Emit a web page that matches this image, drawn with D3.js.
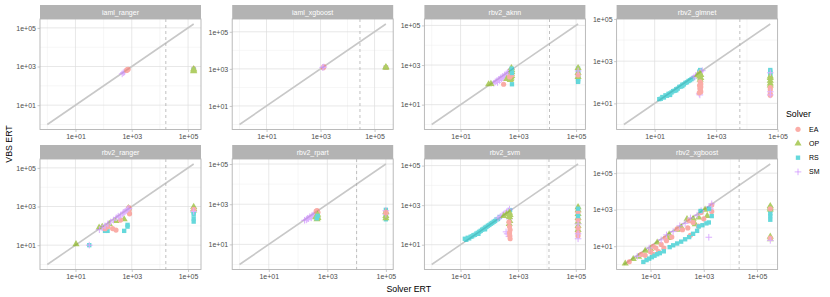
<!DOCTYPE html>
<html>
<head>
<meta charset="utf-8">
<script src="https://cdn.jsdelivr.net/npm/d3@7"></script>
<style>
  body { margin: 0; background: #fff; }
  svg { font-family: "Liberation Sans", Arial, sans-serif; }
</style>
</head>
<body>
<div id="chart"></div>
<script>
// Facet names, in reading order (4 columns x 2 rows)
var facets = ['iaml_ranger', 'iaml_xgboost', 'rbv2_aknn', 'rbv2_glmnet',
              'rbv2_ranger', 'rbv2_rpart', 'rbv2_svm', 'rbv2_xgboost'];

var solvers = ['EA', 'OP', 'RS', 'SM'];
var solverColors = ['#F8766D', '#7CAE00', '#00BFC4', '#C77CFF'];

// log10 of the largest ERT in each facet (end of the diagonal)
var maxLog = [5.2, 5.42, 5.07, 4.76, 5.2, 5.0, 5.08, 5.5];
// log10 of the dashed cut-off line in each facet
var cutLog = [4.21, 4.46, 4.08, 3.77, 4.21, 4.0, 4.07, 4.33];

var majorTicks = [10, 1000, 100000];
var minorTicks = [1, 100, 10000];

// Points: [solver, log10 Solver ERT, log10 VBS ERT]
var iamlRanger = [
  ['SM', 2.70, 2.68], ['SM', 2.74, 2.72], ['SM', 2.66, 2.62],
  ['EA', 2.84, 2.84], ['EA', 2.87, 2.86], ['EA', 2.82, 2.80],
  ['EA', 5.2, 2.88], ['RS', 5.2, 2.84], ['OP', 5.2, 2.86], ['OP', 5.2, 2.80], ['OP', 5.2, 2.76]
];

var iamlXgboost = [
  ['EA', 3.12, 3.12], ['EA', 3.10, 3.06], ['SM', 3.08, 3.08], ['SM', 3.12, 3.10],
  ['RS', 5.42, 3.08], ['EA', 5.42, 3.08], ['OP', 5.42, 3.10], ['OP', 5.42, 3.06]
];

var rbv2Aknn = [
  ['SM', 2.15, 2.08], ['SM', 2.20, 2.15], ['SM', 2.25, 2.20], ['SM', 2.28, 2.12], ['SM', 2.32, 2.28],
  ['SM', 2.35, 2.22], ['SM', 2.38, 2.35], ['SM', 2.42, 2.30], ['SM', 2.45, 2.42], ['SM', 2.48, 2.36],
  ['SM', 2.52, 2.50], ['SM', 2.55, 2.42], ['SM', 2.58, 2.55], ['SM', 2.60, 2.48], ['SM', 2.63, 2.62],
  ['SM', 2.66, 2.55], ['SM', 2.68, 2.68], ['SM', 2.70, 2.62], ['SM', 2.72, 2.75], ['SM', 2.74, 2.70],
  ['SM', 2.76, 2.80],
  ['OP', 1.97, 2.03], ['OP', 2.05, 2.05], ['OP', 2.76, 2.85], ['OP', 2.77, 2.75], ['OP', 2.77, 2.65],
  ['OP', 2.76, 2.55], ['OP', 2.77, 2.45], ['OP', 2.75, 2.38], ['OP', 2.74, 2.30], ['OP', 2.72, 2.25],
  ['OP', 2.60, 2.30],
  ['EA', 2.49, 2.03], ['EA', 2.77, 2.50], ['EA', 2.70, 2.40],
  ['RS', 2.78, 2.03], ['RS', 2.77, 2.82], ['RS', 2.78, 2.60],
  ['RS', 5.07, 2.82], ['RS', 5.07, 2.72], ['RS', 5.07, 2.62], ['RS', 5.07, 2.52], ['RS', 5.07, 2.45],
  ['RS', 5.07, 2.38], ['RS', 5.07, 2.30], ['RS', 5.07, 2.22], ['RS', 5.07, 2.15],
  ['OP', 5.07, 2.85], ['OP', 5.07, 2.60], ['OP', 5.07, 2.40], ['EA', 5.07, 2.50], ['SM', 5.07, 2.70]
];

var rbv2Glmnet = [
  ['RS', 1.15, 1.20], ['RS', 1.20, 1.22], ['RS', 1.25, 1.30], ['RS', 1.30, 1.28], ['RS', 1.35, 1.38],
  ['RS', 1.40, 1.36], ['RS', 1.45, 1.45], ['RS', 1.50, 1.47], ['RS', 1.55, 1.52], ['RS', 1.60, 1.58],
  ['RS', 1.65, 1.60], ['RS', 1.70, 1.67], ['RS', 1.75, 1.70], ['RS', 1.80, 1.78], ['RS', 1.85, 1.80],
  ['RS', 1.90, 1.88], ['RS', 1.95, 1.90], ['RS', 2.00, 1.97], ['RS', 2.05, 2.00], ['RS', 2.10, 2.06],
  ['RS', 2.15, 2.10], ['RS', 2.20, 2.15], ['RS', 2.25, 2.20], ['RS', 1.50, 1.40], ['RS', 1.70, 1.62],
  ['RS', 1.90, 1.82], ['RS', 2.48, 2.58], ['RS', 2.45, 2.50],
  ['SM', 2.28, 2.25], ['SM', 2.33, 2.32], ['SM', 2.38, 2.30], ['SM', 2.42, 2.40], ['SM', 2.47, 2.45],
  ['SM', 2.50, 2.50], ['SM', 2.55, 2.55], ['SM', 2.45, 1.45], ['SM', 2.47, 1.40],
  ['OP', 2.47, 2.42], ['OP', 2.50, 2.35], ['OP', 2.46, 2.28], ['OP', 2.50, 2.20], ['OP', 2.48, 2.12],
  ['OP', 2.40, 2.35],
  ['EA', 2.48, 2.02], ['EA', 2.50, 1.92], ['EA', 2.46, 1.85], ['EA', 2.50, 1.78], ['EA', 2.47, 1.70],
  ['EA', 2.49, 1.62], ['EA', 2.50, 1.55], ['EA', 2.45, 1.50],
  ['RS', 4.76, 2.58], ['RS', 4.76, 2.50], ['RS', 4.76, 2.42], ['RS', 4.76, 2.35],
  ['OP', 4.76, 2.28], ['OP', 4.76, 2.20], ['OP', 4.76, 2.08], ['OP', 4.76, 1.95], ['OP', 4.76, 1.85],
  ['EA', 4.76, 1.75], ['EA', 4.76, 1.65], ['EA', 4.76, 1.45], ['EA', 4.76, 1.38],
  ['SM', 4.76, 1.55], ['SM', 4.76, 1.40], ['SM', 4.76, 2.45]
];

var rbv2Ranger = [
  ['OP', 1.02, 1.05], ['OP', 1.84, 1.91], ['OP', 1.95, 1.95], ['OP', 2.20, 2.10], ['OP', 2.44, 2.25],
  ['OP', 2.73, 2.34], ['OP', 2.88, 2.92],
  ['RS', 1.49, 1.00], ['RS', 2.14, 1.74], ['RS', 2.05, 1.74], ['RS', 2.73, 1.74], ['RS', 2.85, 1.96],
  ['RS', 2.85, 2.05],
  ['EA', 2.32, 1.86], ['EA', 2.44, 1.78], ['EA', 2.90, 2.95], ['EA', 2.90, 2.85], ['EA', 2.90, 2.72],
  ['EA', 2.92, 2.62], ['EA', 2.60, 2.30], ['EA', 2.05, 1.85], ['EA', 2.15, 1.95],
  ['SM', 1.49, 1.00], ['SM', 1.85, 1.80], ['SM', 1.95, 1.90], ['SM', 2.05, 2.00], ['SM', 2.15, 2.10],
  ['SM', 2.25, 2.20], ['SM', 2.35, 2.30], ['SM', 2.45, 2.42], ['SM', 2.52, 2.50], ['SM', 2.60, 2.55],
  ['SM', 2.68, 2.62], ['SM', 2.75, 2.72], ['SM', 2.80, 2.78], ['SM', 2.85, 2.85], ['SM', 2.90, 2.90],
  ['SM', 2.70, 2.70], ['SM', 2.55, 2.45],
  ['OP', 5.2, 2.98], ['OP', 5.2, 2.88], ['OP', 5.2, 2.80],
  ['RS', 5.2, 2.70], ['RS', 5.2, 2.60], ['RS', 5.2, 2.38], ['RS', 5.2, 2.22],
  ['EA', 5.2, 2.85], ['SM', 5.2, 2.75]
];

var rbv2Rpart = [
  ['SM', 2.22, 2.20], ['SM', 2.28, 2.22], ['SM', 2.32, 2.30], ['SM', 2.36, 2.28], ['SM', 2.40, 2.38],
  ['SM', 2.44, 2.35], ['SM', 2.48, 2.45], ['SM', 2.52, 2.42], ['SM', 2.56, 2.52], ['SM', 2.60, 2.50],
  ['SM', 2.62, 2.60], ['SM', 2.30, 2.25], ['SM', 2.45, 2.32],
  ['EA', 2.65, 2.68], ['EA', 2.68, 2.60], ['EA', 2.62, 2.66], ['EA', 2.66, 2.55],
  ['OP', 2.67, 2.48], ['OP', 2.66, 2.40], ['OP', 2.68, 2.32], ['OP', 2.65, 2.26], ['OP', 2.60, 2.35],
  ['RS', 2.67, 2.42], ['RS', 2.64, 2.30],
  ['RS', 5.0, 2.72], ['RS', 5.0, 2.55], ['RS', 5.0, 2.45], ['RS', 5.0, 2.35], ['RS', 5.0, 2.25],
  ['OP', 5.0, 2.62], ['OP', 5.0, 2.42], ['OP', 5.0, 2.30],
  ['SM', 5.0, 2.68], ['SM', 5.0, 2.50], ['EA', 5.0, 2.58]
];

var rbv2Svm = [
  ['RS', 1.15, 1.30], ['RS', 1.20, 1.25], ['RS', 1.25, 1.35], ['RS', 1.30, 1.32], ['RS', 1.35, 1.40],
  ['RS', 1.40, 1.42], ['RS', 1.45, 1.48], ['RS', 1.50, 1.50], ['RS', 1.55, 1.56], ['RS', 1.60, 1.60],
  ['RS', 1.65, 1.65], ['RS', 1.70, 1.70], ['RS', 1.75, 1.76], ['RS', 1.80, 1.80], ['RS', 1.85, 1.86],
  ['RS', 1.90, 1.90], ['RS', 1.95, 1.96], ['RS', 2.00, 2.00], ['RS', 2.05, 2.06], ['RS', 2.10, 2.10],
  ['RS', 2.15, 2.16], ['RS', 2.20, 2.20], ['RS', 2.25, 2.28], ['RS', 2.30, 2.30], ['RS', 2.36, 2.40],
  ['RS', 2.72, 2.75], ['RS', 1.62, 1.55], ['RS', 1.85, 1.78],
  ['SM', 2.30, 2.35], ['SM', 2.38, 2.42], ['SM', 2.45, 2.50], ['SM', 2.50, 2.55], ['SM', 2.55, 2.60],
  ['SM', 2.60, 2.65], ['SM', 2.65, 2.72], ['SM', 2.70, 2.80], ['SM', 2.55, 2.50], ['SM', 2.62, 1.55],
  ['SM', 2.58, 1.65], ['SM', 2.68, 1.42], ['SM', 2.70, 2.30],
  ['OP', 2.70, 2.62], ['OP', 2.72, 2.50], ['OP', 2.70, 2.40], ['OP', 2.71, 2.20], ['OP', 2.69, 2.05],
  ['OP', 2.50, 2.45], ['OP', 2.60, 2.55],
  ['EA', 2.70, 1.92], ['EA', 2.72, 1.75], ['EA', 2.70, 1.60], ['EA', 2.71, 1.45], ['EA', 2.72, 1.30],
  ['EA', 2.68, 2.15],
  ['OP', 5.08, 2.90], ['OP', 5.08, 2.75], ['OP', 5.08, 2.55], ['OP', 5.08, 2.35], ['OP', 5.08, 2.15],
  ['OP', 5.08, 1.95], ['OP', 5.08, 1.75],
  ['EA', 5.08, 2.65], ['EA', 5.08, 2.25], ['EA', 5.08, 1.85], ['EA', 5.08, 1.60], ['EA', 5.08, 1.45],
  ['RS', 5.08, 2.82], ['RS', 5.08, 2.45],
  ['SM', 5.08, 2.05], ['SM', 5.08, 1.30], ['SM', 5.08, 1.55]
];

var rbv2Xgboost = [
  ['OP', 0.05, 0.05], ['OP', 0.35, 0.30], ['OP', 0.80, 0.75], ['OP', 1.25, 1.20], ['OP', 1.70, 1.65],
  ['OP', 2.15, 2.05], ['OP', 2.60, 2.50], ['OP', 3.05, 3.00], ['OP', 2.37, 2.48], ['OP', 2.81, 2.57],
  ['OP', 3.13, 2.66], ['OP', 2.68, 2.20], ['OP', 1.67, 1.45], ['OP', 1.00, 0.85], ['OP', 2.00, 1.90],
  ['OP', 0.55, 0.42],
  ['EA', 0.20, 0.15], ['EA', 0.65, 0.55], ['EA', 1.10, 1.00], ['EA', 1.55, 1.45], ['EA', 2.00, 1.95],
  ['EA', 2.45, 2.40], ['EA', 2.90, 2.85], ['EA', 3.30, 3.25], ['EA', 0.80, 0.50], ['EA', 1.00, 0.70],
  ['EA', 1.20, 0.90], ['EA', 1.40, 1.10], ['EA', 1.60, 1.30], ['EA', 1.80, 1.50], ['EA', 2.20, 1.90],
  ['EA', 2.40, 2.00], ['EA', 2.60, 2.30], ['EA', 1.30, 0.70], ['EA', 1.50, 0.90], ['EA', 2.50, 1.60],
  ['EA', 2.80, 2.10], ['EA', 3.00, 2.50], ['EA', 3.30, 2.90], ['EA', 1.10, 0.55],
  ['SM', 0.50, 0.45], ['SM', 0.95, 0.90], ['SM', 1.40, 1.35], ['SM', 1.85, 1.80], ['SM', 2.30, 2.25],
  ['SM', 2.75, 2.70], ['SM', 3.20, 3.15], ['SM', 3.30, 3.32], ['SM', 2.90, 2.95], ['SM', 2.50, 2.55],
  ['SM', 2.10, 2.12], ['SM', 1.60, 1.62], ['SM', 3.19, 1.49], ['SM', 3.25, 3.05],
  ['RS', 0.73, 0.14], ['RS', 0.85, 0.24], ['RS', 0.95, 0.32], ['RS', 1.05, 0.40], ['RS', 1.15, 0.48],
  ['RS', 1.25, 0.56], ['RS', 1.35, 0.62], ['RS', 1.50, 0.72], ['RS', 1.72, 0.95], ['RS', 1.85, 1.05],
  ['RS', 2.00, 1.15], ['RS', 2.15, 1.25], ['RS', 2.30, 1.38], ['RS', 2.45, 1.50], ['RS', 2.60, 1.68],
  ['RS', 2.75, 1.84], ['RS', 2.81, 2.08], ['RS', 2.95, 2.15], ['RS', 3.10, 2.25], ['RS', 3.19, 2.30],
  ['RS', 2.88, 2.93], ['RS', 3.20, 3.05], ['RS', 3.30, 2.65],
  ['RS', 5.5, 3.10], ['RS', 5.5, 2.95], ['RS', 5.5, 2.80], ['RS', 5.5, 2.65], ['RS', 5.5, 2.45],
  ['OP', 5.5, 3.20], ['OP', 5.5, 3.12], ['OP', 5.5, 3.02], ['EA', 5.5, 3.05],
  ['OP', 5.5, 1.52], ['OP', 5.5, 1.38], ['EA', 5.5, 1.45], ['SM', 5.5, 1.32]
];

var facetPoints = [iamlRanger, iamlXgboost, rbv2Aknn, rbv2Glmnet,
                   rbv2Ranger, rbv2Rpart, rbv2Svm, rbv2Xgboost];

;(function() {
  'use strict';

  var totalW = 830,
      totalH = 297;

  // Panel grid
  var panelLeft0 = 40,
      colStep = 192.2,
      panelW = 161,
      stripTop0 = 5,
      rowStep = 140,
      stripH = 14,
      panelH = 110.5;

  var grey70 = '#B3B3B3';

  var svg = d3.select('#chart')
              .append('svg')
              .attr('width', totalW)
              .attr('height', totalH);

  var colorScale = d3.scaleOrdinal().domain(solvers).range(solverColors);

  function fmtTick(d) {
    var e = Math.round(Math.log10(d));
    return '1e' + (e < 0 ? '-' : '+') + String(Math.abs(e)).padStart(2, '0');
  }

  // Shapes like ggplot's 16, 17, 15, 3
  function drawShape(sel, solver) {
    var col = colorScale(solver);
    if (solver === 'SM') {
      sel.append('path')
        .attr('d', 'M-3.3,0H3.3M0,-3.3V3.3')
        .attr('fill', 'none')
        .attr('stroke', col)
        .attr('stroke-width', 1);
    } else {
      var type = solver === 'EA' ? d3.symbolCircle :
                 solver === 'OP' ? d3.symbolTriangle : d3.symbolSquare;
      var size = solver === 'EA' ? 21 : solver === 'OP' ? 22 : 19;
      sel.append('path')
        .attr('d', d3.symbol().type(type).size(size)())
        .attr('fill', col);
    }
  }

  facets.forEach(function(name, i) {
    var col = i % 4,
        row = Math.floor(i / 4);
    var left = panelLeft0 + col * colStep,
        stripTop = stripTop0 + row * rowStep,
        top = stripTop + stripH,
        bottom = top + panelH;

    var L = maxLog[i];
    var domain = [Math.pow(10, -0.05 * L), Math.pow(10, 1.05 * L)];

    var x = d3.scaleLog().domain(domain).range([left, left + panelW]);
    var y = d3.scaleLog().domain(domain).range([bottom, top]);

    var g = svg.append('g').classed('panel', true);

    // Background
    g.append('rect')
      .attr('x', left).attr('y', top)
      .attr('width', panelW).attr('height', panelH)
      .attr('fill', '#fff');

    // Grid lines
    var grid = g.append('g');
    minorTicks.forEach(function(t) {
      if (t > domain[0] && t < domain[1]) {
        grid.append('line')
          .attr('x1', x(t)).attr('x2', x(t)).attr('y1', top).attr('y2', bottom)
          .attr('stroke', '#EDEDED').attr('stroke-width', 0.5);
        grid.append('line')
          .attr('y1', y(t)).attr('y2', y(t)).attr('x1', left).attr('x2', left + panelW)
          .attr('stroke', '#EDEDED').attr('stroke-width', 0.5);
      }
    });
    majorTicks.forEach(function(t) {
      if (t > domain[0] && t < domain[1]) {
        grid.append('line')
          .attr('x1', x(t)).attr('x2', x(t)).attr('y1', top).attr('y2', bottom)
          .attr('stroke', '#DEDEDE').attr('stroke-width', 0.7);
        grid.append('line')
          .attr('y1', y(t)).attr('y2', y(t)).attr('x1', left).attr('x2', left + panelW)
          .attr('stroke', '#DEDEDE').attr('stroke-width', 0.7);
      }
    });

    // Diagonal from 1 to the facet maximum
    var maxVal = Math.pow(10, L);
    g.append('line')
      .attr('x1', x(1)).attr('y1', y(1))
      .attr('x2', x(maxVal)).attr('y2', y(maxVal))
      .attr('stroke', '#C8C8C8')
      .attr('stroke-width', 1.6);

    // Dashed cut-off
    var cx = x(Math.pow(10, cutLog[i]));
    g.append('line')
      .attr('x1', cx).attr('x2', cx).attr('y1', top).attr('y2', bottom)
      .attr('stroke', '#A6A6A6')
      .attr('stroke-width', 0.7)
      .attr('stroke-dasharray', '3,3');

    // Points
    var pts = g.append('g').attr('opacity', 0.6);
    facetPoints[i].forEach(function(p) {
      var s = pts.append('g')
                 .attr('transform', 'translate(' + x(Math.pow(10, p[1])) + ',' +
                                                   y(Math.pow(10, p[2])) + ')');
      drawShape(s, p[0]);
    });

    // Panel border
    g.append('rect')
      .attr('x', left).attr('y', top)
      .attr('width', panelW).attr('height', panelH)
      .attr('fill', 'none')
      .attr('stroke', grey70)
      .attr('stroke-width', 0.9);

    // Strip
    g.append('rect')
      .attr('x', left).attr('y', stripTop)
      .attr('width', panelW).attr('height', stripH)
      .attr('fill', grey70);
    g.append('text')
      .attr('x', left + panelW / 2)
      .attr('y', stripTop + stripH / 2 + 2.5)
      .attr('text-anchor', 'middle')
      .attr('fill', '#fff')
      .style('font-size', '7px')
      .text(name);

    // Axes
    var xAxis = g.append('g')
                 .attr('transform', 'translate(0,' + bottom + ')')
                 .call(d3.axisBottom(x).tickValues(majorTicks).tickSize(2.5)
                         .tickPadding(2.5).tickFormat(fmtTick));
    var yAxis = g.append('g')
                 .attr('transform', 'translate(' + left + ',0)')
                 .call(d3.axisLeft(y).tickValues(majorTicks).tickSize(2.5)
                         .tickPadding(1.5).tickFormat(fmtTick));
    [xAxis, yAxis].forEach(function(a) {
      a.select('.domain').remove();
      a.selectAll('line').attr('stroke', grey70).attr('stroke-width', 0.7);
      a.selectAll('text')
        .attr('fill', '#4D4D4D')
        .style('font-family', '"Liberation Sans", Arial, sans-serif')
        .style('font-size', '7px');
    });
  });

  // Axis titles
  svg.append('text')
    .attr('x', panelLeft0 + (3 * colStep + panelW) / 2)
    .attr('y', 292)
    .attr('text-anchor', 'middle')
    .style('font-size', '8.8px')
    .text('Solver ERT');

  svg.append('text')
    .attr('transform', 'translate(12,144) rotate(-90)')
    .attr('text-anchor', 'middle')
    .style('font-size', '8.8px')
    .text('VBS ERT');

  // Legend
  var legend = svg.append('g');
  legend.append('text')
    .attr('x', 786)
    .attr('y', 117)
    .style('font-size', '8.8px')
    .text('Solver');

  solvers.forEach(function(s, k) {
    var ky = 129.3 + k * 14.2;
    var item = legend.append('g')
                     .attr('transform', 'translate(798,' + ky + ')')
                     .attr('opacity', 0.6);
    drawShape(item, s);
    legend.append('text')
      .attr('x', 809)
      .attr('y', ky + 2.5)
      .style('font-size', '7px')
      .text(s);
  });
}());
</script>
</body>
</html>
